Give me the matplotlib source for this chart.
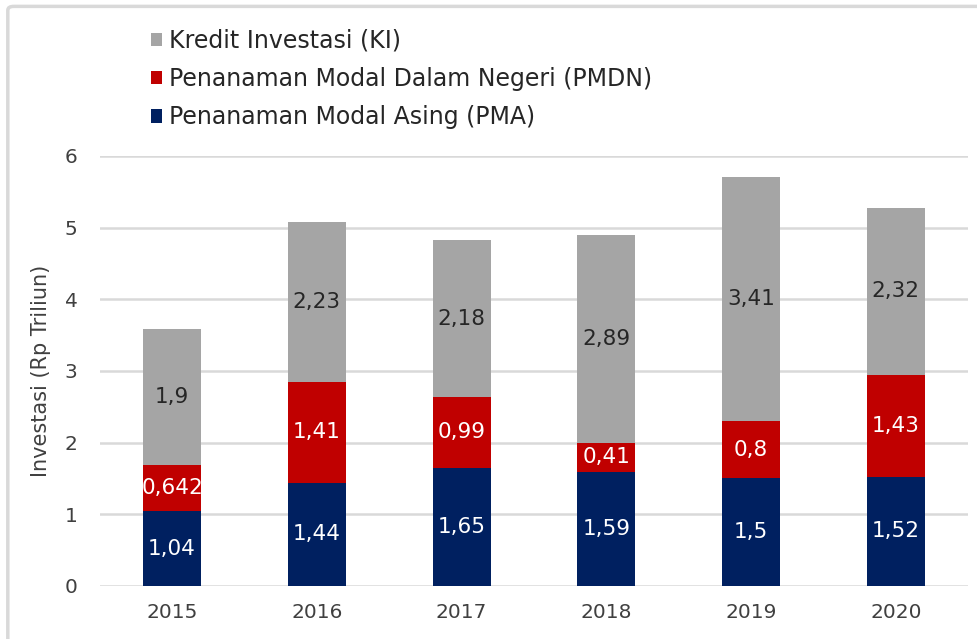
import matplotlib
matplotlib.use("Agg")
import matplotlib.pyplot as plt
from matplotlib.patches import FancyBboxPatch
import numpy as np

years = ["2015", "2016", "2017", "2018", "2019", "2020"]
pma = [1.04, 1.44, 1.65, 1.59, 1.5, 1.52]
pmdn = [0.642, 1.41, 0.99, 0.41, 0.8, 1.43]
ki = [1.9, 2.23, 2.18, 2.89, 3.41, 2.32]

pma_labels = ["1,04", "1,44", "1,65", "1,59", "1,5", "1,52"]
pmdn_labels = ["0,642", "1,41", "0,99", "0,41", "0,8", "1,43"]
ki_labels = ["1,9", "2,23", "2,18", "2,89", "3,41", "2,32"]

plt.rcParams["font.family"] = ["DejaVu Sans"]

fig = plt.figure(figsize=(9.77, 6.39), dpi=100)
fig.patches.append(FancyBboxPatch((0.008, -0.05), 1.2, 1.04, boxstyle="round,pad=0,rounding_size=0.006",
                                  transform=fig.transFigure, fill=False, edgecolor="#D9D9D9", lw=2.5))
ax = fig.add_axes([0.102, 0.083, 0.889, 0.673])

x = np.arange(len(years))
w = 0.4
b1 = ax.bar(x, pma, w, color="#002060", label="Penanaman Modal Asing (PMA)", zorder=3)
b2 = ax.bar(x, pmdn, w, bottom=pma, color="#C00000", label="Penanaman Modal Dalam Negeri (PMDN)", zorder=3)
bot3 = np.array(pma) + np.array(pmdn)
b3 = ax.bar(x, ki, w, bottom=bot3, color="#A5A5A5", label="Kredit Investasi (KI)", zorder=3)

ax.bar_label(b1, labels=pma_labels, label_type="center", color="white", fontsize=15.5)
ax.bar_label(b2, labels=pmdn_labels, label_type="center", color="white", fontsize=15.5)
ax.bar_label(b3, labels=ki_labels, label_type="center", color="#262626", fontsize=15.5)

ax.set_ylim(0, 6)
ax.set_xlim(-0.5, 5.5)
ax.set_yticks(range(7))
ax.set_xticks(x)
ax.set_xticklabels(years)
ax.tick_params(length=0, labelsize=14.5, colors="#404040", pad=12)
ax.tick_params(axis="y", pad=16)
ax.grid(axis="y", color="#D9D9D9", lw=1.8, zorder=0)
for s in ax.spines.values():
    s.set_visible(False)
ax.set_ylabel("Investasi (Rp Triliun)", fontsize=15, color="#404040", labelpad=10)

handles = [b3, b2, b1]
fig.legend(handles=handles, labels=[h.get_label() for h in handles], loc="upper left",
           bbox_to_anchor=(0.133, 0.988), frameon=False, fontsize=17, labelcolor="#262626",
           handlelength=0.45, handleheight=0.5, handletextpad=0.3, labelspacing=0.6)

fig.savefig("out.png", dpi=100)
